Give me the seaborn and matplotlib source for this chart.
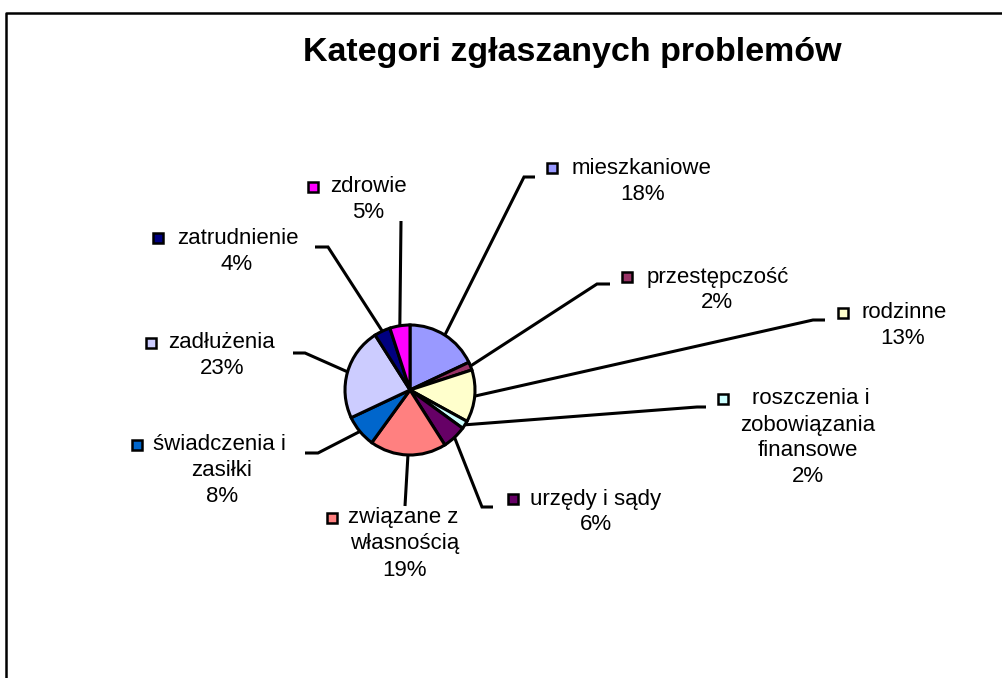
import matplotlib
matplotlib.use("Agg")
import matplotlib.pyplot as plt
from matplotlib.lines import Line2D
import numpy as np
import seaborn as sns

# ---- data ----
categories = ["mieszkaniowe", "przestępczość", "rodzinne",
              "roszczenia i zobowiązania finansowe", "urzędy i sądy",
              "związane z własnością", "świadczenia i zasiłki",
              "zadłużenia", "zatrudnienie", "zdrowie"]
values = [18, 2, 13, 2, 6, 19, 8, 23, 4, 5]
colors = ["#9999FF", "#993366", "#FFFFCC", "#CCFFFF", "#660066",
          "#FF8080", "#0066CC", "#CCCCFF", "#000080", "#FF00FF"]
title = "Kategori zgłaszanych problemów"

# label line wrapping as in the reference
label_lines = [["mieszkaniowe"], ["przestępczość"], ["rodzinne"],
               ["roszczenia i", "zobowiązania", "finansowe"], ["urzędy i sądy"],
               ["związane z", "własnością"], ["świadczenia i", "zasiłki"],
               ["zadłużenia"], ["zatrudnienie"], ["zdrowie"]]

# ---- layout (pixel positions) ----
W, H = 1003, 678
pie_center = (410, 390)
pie_radius = 65
# marker (x,y), first-line text left x, centre x of further lines
lab_layout = [
    ((552, 168), 572, 643),
    ((627, 277), 647, 717),
    ((843, 313), 862, 903),
    ((723, 399), 752, 808),
    ((513, 499), 530, 596),
    ((332, 518), 348, 405),
    ((137, 445), 153, 222),
    ((151, 343), 168, 222),
    ((158, 238), 177, 237),
    ((313, 187), 330, 368),
]
# leader line: bend point, end point
leader_layout = [
    ((524, 177), (535, 177)),
    ((597, 284), (610, 284)),
    ((813, 320), (825, 320)),
    ((697, 407), (706, 407)),
    ((482, 507), (493, 507)),
    ((405, 506), (405, 506)),
    ((318, 453), (305, 453)),
    ((305, 353), (293, 353)),
    ((328, 247), (315, 247)),
    ((401, 221), (401, 221)),
]
line_step = 26

sns.set_theme(style="white")
plt.rcParams["font.family"] = ["Liberation Sans", "DejaVu Sans"]

fig = plt.figure(figsize=(W / 100, H / 100), dpi=100)
fig.patch.set_facecolor("white")
ax = fig.add_axes([0, 0, 1, 1])

palette = sns.color_palette(colors)
wedges, _ = ax.pie(values, colors=palette, startangle=-90, counterclock=True,
                   center=pie_center, radius=pie_radius,
                   wedgeprops=dict(edgecolor="black", linewidth=2.2))
ax.set_xlim(0, W)
ax.set_ylim(H, 0)
ax.set_aspect("equal")
ax.axis("off")

for i, w in enumerate(wedges):
    mid = np.deg2rad((w.theta1 + w.theta2) / 2)
    sx = pie_center[0] + pie_radius * np.cos(mid)
    sy = pie_center[1] + pie_radius * np.sin(mid)
    (bx, by), (ex, ey) = leader_layout[i]
    ax.plot([sx, bx, ex], [sy, by, ey], color="black", lw=2.2,
            solid_capstyle="butt", solid_joinstyle="miter", zorder=1)

    (mx, my), tx, cx = lab_layout[i]
    ax.plot([mx], [my], marker="s", markersize=6.5, markerfacecolor=colors[i],
            markeredgecolor="black", markeredgewidth=1.8, linestyle="none")
    lines = label_lines[i] + [f"{values[i]}%"]
    ax.text(tx, my, lines[0], ha="left", va="center", fontsize=16, color="black")
    for k, ln in enumerate(lines[1:], start=1):
        ax.text(cx, my + k * line_step, ln, ha="center", va="center",
                fontsize=16, color="black")

ax.text(572, 52, title, ha="center", va="center", fontsize=24.5,
        fontweight="bold", color="black")

# chart area frame (left and top edges visible)
fig.add_artist(Line2D([6 / W, 6 / W, 1.0], [0.0, 1 - 13 / H, 1 - 13 / H],
                      transform=fig.transFigure, color="black", lw=1.8))

fig.savefig("out.png", dpi=100, facecolor="white")
